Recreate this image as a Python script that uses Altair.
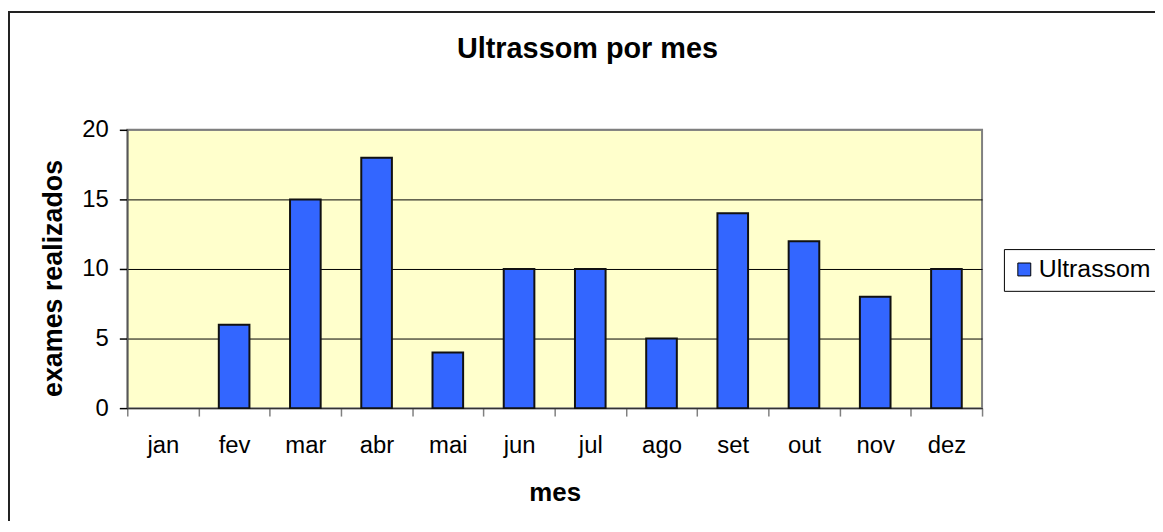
import altair as alt
import pandas as pd

meses = ["jan", "fev", "mar", "abr", "mai", "jun", "jul", "ago", "set", "out", "nov", "dez"]
valores = [0, 6, 15, 18, 4, 10, 10, 5, 14, 12, 8, 10]
serie = "Ultrassom"
titulo = "Ultrassom por mes"
y_ticks = [0, 5, 10, 15, 20]

df = pd.DataFrame({"mes": meses, "valor": valores, "serie": [serie] * len(meses)})

FONT = "Liberation Sans"

bars = alt.Chart(df).mark_bar(
    width=alt.RelativeBandSize(0.43),
    stroke="#111111",
    strokeWidth=2,
).encode(
    x=alt.X(
        "mes:N",
        sort=meses,
        scale=alt.Scale(paddingInner=0, paddingOuter=0),
        axis=alt.Axis(
            title="mes",
            titleFont=FONT,
            titleFontSize=26,
            titleFontWeight="bold",
            titleColor="black",
            titleY=93,
            titleBaseline="alphabetic",
            labelFont=FONT,
            labelFontSize=24,
            labelColor="black",
            labelAngle=0,
            labelPadding=18,
            tickBand="extent",
            tickSize=8,
            tickColor="#808080",
            tickWidth=1.5,
            domainColor="#333333",
            domainWidth=1.5,
            grid=False,
        ),
    ),
    y=alt.Y(
        "valor:Q",
        scale=alt.Scale(domain=[0, 20], nice=False),
        axis=alt.Axis(
            title="exames realizados",
            titleFont=FONT,
            titleFontSize=27,
            titleFontWeight="bold",
            titleColor="black",
            titleX=-66,
            titleY=149,
            titleAngle=270,
            titleBaseline="alphabetic",
            values=y_ticks,
            labelFont=FONT,
            labelFontSize=24,
            labelColor="black",
            labelPadding=11,
            tickSize=8,
            tickColor="black",
            tickWidth=1.5,
            domainColor="#555555",
            domainWidth=1.5,
            grid=True,
            gridColor={"condition": {"test": "datum.value === 20", "value": "#808080"}, "value": "black"},
            gridWidth=1,
        ),
    ),
    strokeOpacity=alt.condition(alt.datum.valor == 0, alt.value(0), alt.value(1)),
    color=alt.Color(
        "serie:N",
        scale=alt.Scale(range=["#3366FF"]),
        legend=alt.Legend(
            title=None,
            orient="none",
            legendX=882,
            legendY=120,
            padding=8,
            strokeColor="black",
            fillColor="white",
            symbolType="square",
            symbolSize=169,
            symbolStrokeColor="black",
            symbolStrokeWidth=1,
            symbolOpacity=1,
            labelFont=FONT,
            labelFontSize=25,
            labelColor="black",
            labelOffset=2,
        ),
    ),
)

title_mark = alt.Chart(pd.DataFrame({"t": [titulo]})).mark_text(
    font=FONT,
    fontSize=29,
    fontWeight="bold",
    color="black",
    align="center",
    baseline="alphabetic",
).encode(text="t:N", x=alt.value(463), y=alt.value(-72))

frame = alt.Chart(pd.DataFrame({"f": [0]})).mark_rect(
    fillOpacity=0,
    stroke="#222222",
    strokeWidth=2,
).encode(x=alt.value(-119), x2=alt.value(1300), y=alt.value(-118.5), y2=alt.value(700))

chart = alt.layer(frame, bars, title_mark).properties(
    width=860,
    height=280,
    autosize=alt.AutoSizeParams(type="none"),
    padding={"left": 120, "top": 121, "right": 174, "bottom": 112},
    background="white",
).configure_view(
    fill="#FFFFCC",
    stroke="#808080",
    strokeWidth=2,
)

chart.save("out.html", embed_options={"renderer": "svg", "actions": False})
